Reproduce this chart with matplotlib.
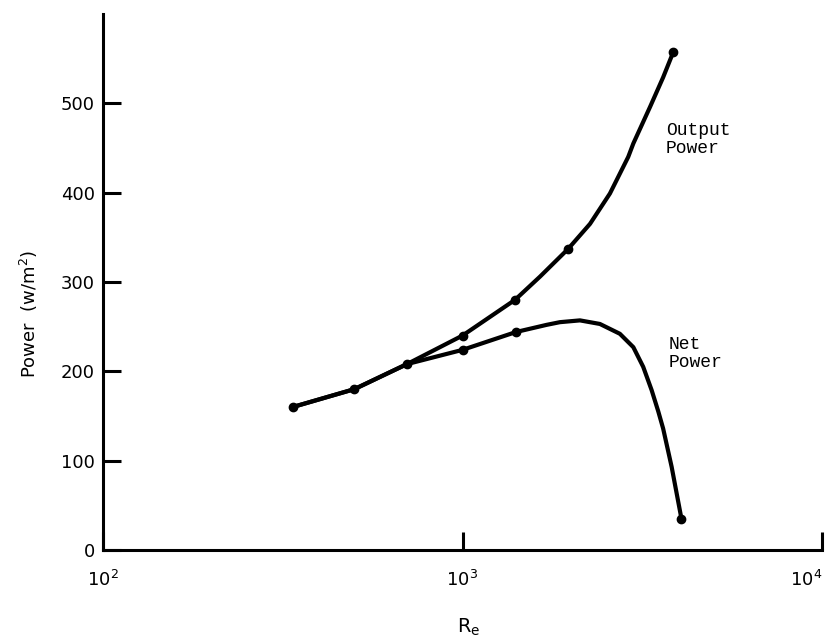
import matplotlib
matplotlib.use("Agg")
import matplotlib.pyplot as plt
import numpy as np

# (Re, power in w/m^2)
re_output = [337, 500, 700, 1000, 1400, 1643, 1967, 2263, 2571, 2891, 2987, 3325, 3615, 3855]
p_output = [160, 180, 208, 240, 280, 306, 337, 365, 399, 440, 455, 496, 529, 557]
re_net = [337, 500, 700, 1000, 1409, 1714, 1866, 2122, 2411, 2740, 2987, 3182, 3358,
          3505, 3615, 3818, 4065]
p_net = [160, 180, 208, 224, 244, 252, 255, 257, 253, 242, 227, 205, 179,
         155, 136, 93, 35]

# plotted data points (dots)
re_output_pts = [337, 500, 700, 1000, 1400, 1967, 3855]
p_output_pts = [160, 180, 208, 240, 280, 337, 557]
re_net_pts = [1000, 1409, 4065]
p_net_pts = [224, 244, 35]

fig = plt.figure(figsize=(8.35, 6.42), dpi=100)
ax = fig.add_axes([0.1234, 0.1433, 0.861, 0.835])

ax.plot(re_output, p_output, color="black", lw=3.0, solid_capstyle="round",
        solid_joinstyle="round")
ax.plot(re_net, p_net, color="black", lw=3.0, solid_capstyle="round",
        solid_joinstyle="round")
ax.plot(re_output_pts, p_output_pts, "o", color="black", ms=6)
ax.plot(re_net_pts, p_net_pts, "o", color="black", ms=6)

ax.set_xscale("log")
ax.set_xlim(100, 10000)
ax.set_ylim(0, 600)

for s in ["top", "right"]:
    ax.spines[s].set_visible(False)
for s in ["left", "bottom"]:
    ax.spines[s].set_linewidth(2.2)

ax.set_yticks([0, 100, 200, 300, 400, 500])
ax.set_yticklabels(["0", "100", "200", "300", "400", "500"])
ax.set_xticks([100, 1000, 10000])
ax.set_xticklabels([r"10$^2$", r"10$^3$", r"10$^4$"])
ax.xaxis.set_minor_locator(matplotlib.ticker.NullLocator())
ax.tick_params(axis="both", direction="in", length=13, width=2.2, labelsize=13)
ax.tick_params(axis="x", pad=14)
ax.tick_params(axis="y", pad=6)
ax.get_xticklabels()[-1].set_horizontalalignment("right")

ax.set_ylabel(r"Power  (w/m$^2$)", fontsize=13)
ax.yaxis.set_label_coords(-0.088, 0.44)
ax.set_xlabel(r"R$_\mathrm{e}$", fontsize=14)
ax.xaxis.set_label_coords(0.509, -0.125)

ax.text(3680, 479, "Output\nPower", fontsize=13, family="Liberation Mono",
        linespacing=1.1, va="top")
ax.text(3750, 240, "Net\nPower", fontsize=13, family="Liberation Mono",
        linespacing=1.1, va="top")

fig.savefig("out.png", dpi=100)
